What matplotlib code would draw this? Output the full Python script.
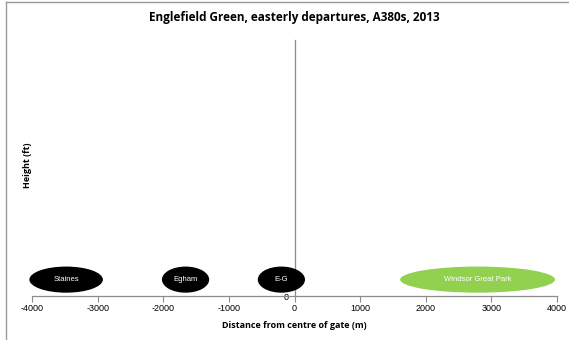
import matplotlib
matplotlib.use("Agg")
import matplotlib.pyplot as plt
from matplotlib.lines import Line2D
from matplotlib.patches import Ellipse

plt.rcParams['font.family'] = ['Open Sans', 'DejaVu Sans']
SANS = ['Liberation Sans', 'DejaVu Sans']

# Place-name markers along the ground track (centre, width in metres)
places = ["Staines", "Egham", "E-G", "Windsor Great Park"]
centres = [-3480, -1660, -200, 2790]
widths = [1120, 720, 720, 2360]
colours = ["#000000", "#000000", "#000000", "#92D050"]

x_ticks = [-4000, -3000, -2000, -1000, 0, 1000, 2000, 3000, 4000]

W, H = 569, 340
fig = plt.figure(figsize=(W / 100, H / 100), dpi=100)

# Chart-area frame edges (top and left)
fig.lines.append(Line2D([6 / W, 6 / W], [0, 1 - 2 / H], transform=fig.transFigure,
                        color="#9a9a9a", linewidth=1.0))
fig.lines.append(Line2D([6 / W, 1], [1 - 2 / H, 1 - 2 / H], transform=fig.transFigure,
                        color="#9a9a9a", linewidth=1.0))

ax = fig.add_axes([32 / W, 1 - 296 / H, (557 - 32) / W, (296 - 40) / H])
ax.set_xlim(-4000, 4000)
ax.set_ylim(0, 1000)

for s in ["top", "right"]:
    ax.spines[s].set_visible(False)
ax.spines["left"].set_position(("data", 0))
ax.spines["left"].set_color("#8c8c8c")
ax.spines["bottom"].set_color("#8c8c8c")
ax.spines["left"].set_linewidth(0.9)
ax.spines["bottom"].set_linewidth(0.9)

ax.set_xticks(x_ticks)
ax.set_xticklabels([str(v) for v in x_ticks], family=SANS)
ax.tick_params(axis="x", direction="out", length=4, color="#8c8c8c",
               labelsize=6.5, pad=2)
ax.set_yticks([0])
ax.set_yticklabels(["0"], family=SANS)
ax.tick_params(axis="y", length=0, labelsize=6.5, pad=4)

for name, cx, w, c in zip(places, centres, widths, colours):
    e = Ellipse((cx, 64), w, 102, facecolor=c, edgecolor="none", zorder=5,
                clip_on=False)
    ax.add_patch(e)
    ax.text(cx, 64, name, color="white", fontsize=5.5, ha="center",
            va="center", zorder=6, family=SANS)

fig.text(294 / W, 1 - 18 / H, "Englefield Green, easterly departures, A380s, 2013",
         ha="center", va="center", fontsize=8.5, fontweight="bold")
fig.text(294 / W, 1 - 325 / H, "Distance from centre of gate (m)",
         ha="center", va="center", fontsize=6.5, fontweight="bold")
fig.text(27 / W, 1 - 165 / H, "Height (ft)", rotation=90,
         ha="center", va="center", fontsize=6.5, fontweight="bold")

fig.savefig("out.png", dpi=100)
